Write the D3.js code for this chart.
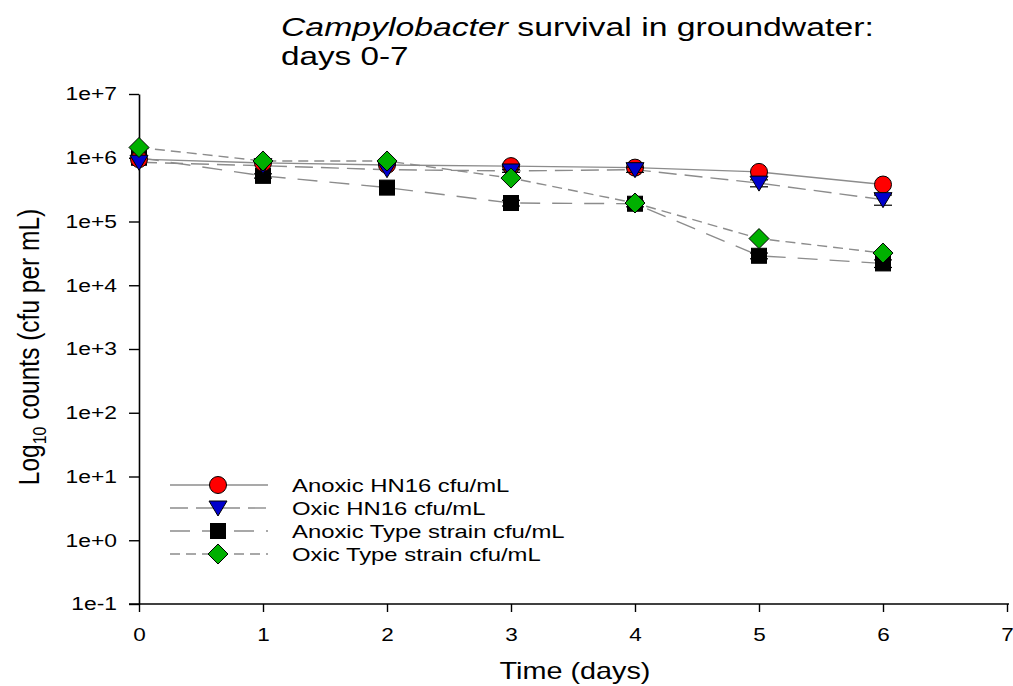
<!DOCTYPE html>
<html>
<head>
<meta charset="utf-8">
<script src="https://cdn.jsdelivr.net/npm/d3@7"></script>
<style>
  body { margin: 0; background: #fff; }
  text { font-family: "Liberation Sans", Arial, sans-serif; fill: #000; }
</style>
</head>
<body>
<div id="chart"></div>
<script>
// data
var days = [0, 1, 2, 3, 4, 5, 6];
var anoxicHN16 = [9.5e5, 8.3e5, 7.7e5, 7.4e5, 7.0e5, 6.0e5, 3.8e5];
var oxicHN16 = [8.5e5, 7.5e5, 6.5e5, 6.2e5, 6.5e5, 4.0e5, 2.2e5];
var anoxicType = [1.0e6, 5.2e5, 3.4e5, 1.95e5, 1.9e5, 2.9e4, 2.2e4];
var oxicType = [1.45e6, 8.9e5, 8.9e5, 4.8e5, 1.95e5, 5.4e4, 3.2e4];
var oxicHN16Err = [0, 0, 0, 0.3e5, 0.6e5, 0.5e5, 0.4e5];
var anoxicTypeErr = [0, 0.4e5, 0, 0.2e5, 0.2e5, 0.3e4, 0.3e4];
var yTicks = [1e-1, 1e0, 1e1, 1e2, 1e3, 1e4, 1e5, 1e6, 1e7];
var yTickLabels = ["1e-1", "1e+0", "1e+1", "1e+2", "1e+3", "1e+4", "1e+5", "1e+6", "1e+7"];
var xTicks = [0, 1, 2, 3, 4, 5, 6, 7];

var series = [
  { name: "Anoxic HN16 cfu/mL", values: anoxicHN16, err: null, shape: "circle", fill: "#ff0000", dash: null, z: 1 },
  { name: "Oxic HN16 cfu/mL", values: oxicHN16, err: oxicHN16Err, shape: "triangle", fill: "#0000cc", dash: "18,8", z: 2 },
  { name: "Anoxic Type strain cfu/mL", values: anoxicType, err: anoxicTypeErr, shape: "square", fill: "#000000", dash: "20,12", z: 0 },
  { name: "Oxic Type strain cfu/mL", values: oxicType, err: null, shape: "diamond", fill: "#00b000", dash: "10,6", z: 3 }
];

var width = 1013, height = 686;
var margin = { top: 94, right: 8, bottom: 82, left: 139 };

var svg = d3.select("#chart").append("svg")
  .attr("width", width)
  .attr("height", height);

// the original figure has horizontally widened lettering
function widen(sel, f) {
  sel.each(function() {
    var len = this.getComputedTextLength();
    d3.select(this).attr("textLength", len * f).attr("lengthAdjust", "spacingAndGlyphs");
  });
}

var x = d3.scaleLinear().domain([0, 7]).range([margin.left, margin.left + 124 * 7]);
var y = d3.scaleLog().domain([1e-1, 1e7]).range([604, 94]);

// axes
var xAxis = svg.append("g")
  .attr("transform", "translate(0," + y(1e-1) + ")")
  .call(d3.axisBottom(x).tickValues(xTicks).tickFormat(d3.format("d")).tickSize(8).tickSizeOuter(0));
xAxis.select(".domain").attr("stroke-width", 1.6).attr("d", "M" + (margin.left - 10) + ",0H" + (x(7) + 2));
xAxis.selectAll(".tick line").attr("stroke-width", 1.4);
xAxis.selectAll(".tick text").attr("font-size", 18).attr("y", 37).attr("dy", null)
  .style("font-family", "Liberation Sans, Arial, sans-serif");
widen(xAxis.selectAll(".tick text"), 1.25);

var yAxis = svg.append("g")
  .attr("transform", "translate(" + margin.left + ",0)")
  .call(d3.axisLeft(y).tickValues(yTicks).tickFormat(function(d, i) { return yTickLabels[i]; }).tickSize(10).tickSizeOuter(0));
yAxis.select(".domain").attr("stroke-width", 1.6);
yAxis.selectAll(".tick line").attr("stroke-width", 1.4);
yAxis.selectAll(".tick text").attr("font-size", 18).attr("x", -22)
  .style("font-family", "Liberation Sans, Arial, sans-serif");
widen(yAxis.selectAll(".tick text"), 1.27);

// marker drawing
function marker(g, shape, fill) {
  var s;
  if (shape === "circle") {
    s = g.append("circle").attr("r", 8.5);
  } else if (shape === "triangle") {
    s = g.append("path").attr("d", "M-9,-7L9,-7L0,8Z");
  } else if (shape === "square") {
    s = g.append("rect").attr("x", -7.5).attr("y", -7.5).attr("width", 15).attr("height", 15);
  } else {
    s = g.append("path").attr("d", "M0,-10L10,0L0,10L-10,0Z");
  }
  s.attr("fill", fill).attr("stroke", "#000").attr("stroke-width", 1);
}

var line = d3.line()
  .x(function(d, i) { return x(days[i]); })
  .y(function(d) { return y(d); });

series.forEach(function(s) {
  svg.append("path")
    .datum(s.values)
    .attr("d", line)
    .attr("fill", "none")
    .attr("stroke", "#8c8c8c")
    .attr("stroke-width", 1.4)
    .attr("stroke-dasharray", s.dash);
});

// markers drawn in the stacking order seen in the figure
series.slice().sort(function(a, b) { return a.z - b.z; }).forEach(function(s) {
  if (s.err) {
    s.values.forEach(function(v, i) {
      if (!s.err[i]) return;
      var xp = x(days[i]);
      var lo = y(v - s.err[i]), hi = y(v + s.err[i]);
      svg.append("line").attr("x1", xp).attr("x2", xp).attr("y1", lo).attr("y2", hi).attr("stroke", "#000");
      [lo, hi].forEach(function(yy) {
        svg.append("line").attr("x1", xp - 9).attr("x2", xp + 9).attr("y1", yy).attr("y2", yy).attr("stroke", "#000").attr("stroke-width", 1.2);
      });
    });
  }
  s.values.forEach(function(v, i) {
    var g = svg.append("g").attr("transform", "translate(" + x(days[i]) + "," + y(v) + ")");
    marker(g, s.shape, s.fill);
  });
});

// legend
var legend = svg.append("g").attr("transform", "translate(170,485)");
series.forEach(function(s, i) {
  var row = legend.append("g").attr("transform", "translate(0," + (i * 23) + ")");
  row.append("line").attr("x1", 0).attr("x2", 98).attr("y1", 0).attr("y2", 0)
    .attr("stroke", "#8c8c8c").attr("stroke-width", 1.4).attr("stroke-dasharray", s.dash);
  marker(row.append("g").attr("transform", "translate(48,0)"), s.shape, s.fill);
  row.append("text").attr("x", 122).attr("y", 7).attr("font-size", 19).text(s.name);
});
widen(legend.selectAll("text"), 1.255);

// title
var title = svg.append("text").attr("x", 281).attr("y", 36).attr("font-size", 25);
title.append("tspan").attr("font-style", "italic").text("Campylobacter");
title.append("tspan").text(" survival in groundwater:");
var title2 = svg.append("text").attr("x", 281).attr("y", 65).attr("font-size", 25).text("days 0-7");
widen(title, 1.35);
widen(title2, 1.33);

// axis titles
var xl = svg.append("text")
  .attr("x", 575).attr("y", 679)
  .attr("text-anchor", "middle").attr("font-size", 24)
  .text("Time (days)");
widen(xl, 1.2);

var yl = svg.append("text")
  .attr("transform", "translate(39,347) scale(1.18,1) rotate(-90)")
  .attr("text-anchor", "middle").attr("font-size", 24.5);
yl.append("tspan").text("Log");
yl.append("tspan").attr("font-size", 16).attr("dy", 6).text("10");
yl.append("tspan").attr("dy", -6).text(" counts (cfu per mL)");
</script>
</body>
</html>
